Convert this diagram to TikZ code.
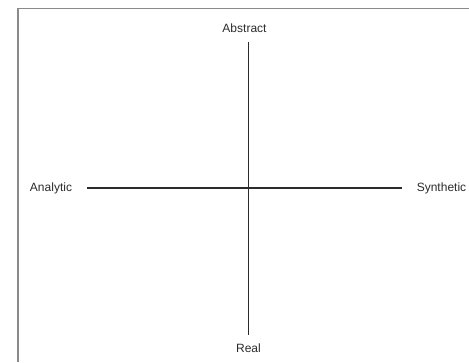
\documentclass[tikz,border=0pt]{standalone}
\usepackage{fontspec}
\setmainfont{Liberation Sans}
\usepackage{tikz}
\definecolor{framegray}{HTML}{8A8A8A}
\definecolor{axisink}{HTML}{2B2B2B}

\begin{document}
\begin{tikzpicture}[x=1pt,y=1pt,font=\fontsize{12}{14}\selectfont,
  axis/.style={line width=1.2pt,axisink},
  pole/.style={inner sep=0pt,text=axisink}]
  \useasboundingbox (0,0) rectangle (469,362);
  % frame, only top and left edges show
  \draw[framegray,line width=1.5pt] (18,0) -- (18,353.5) -- (469,353.5);
  % pole labels
  \node[pole] (abstract) at (244.5,334) {Abstract};
  \node[pole] (real) at (248.5,14) {Real};
  \node[pole] (analytic) at (51,174) {Analytic};
  \node[pole] (synthetic) at (441.5,174) {Synthetic};
  % axis ends
  \coordinate (top) at (248.5,320);
  \coordinate (bottom) at (248.5,27);
  \coordinate (left) at (87,174);
  \coordinate (right) at (402,174);
  \draw[axis] (top) -- (bottom);
  \draw[axis] (left) -- (right);
\end{tikzpicture}
\end{document}
